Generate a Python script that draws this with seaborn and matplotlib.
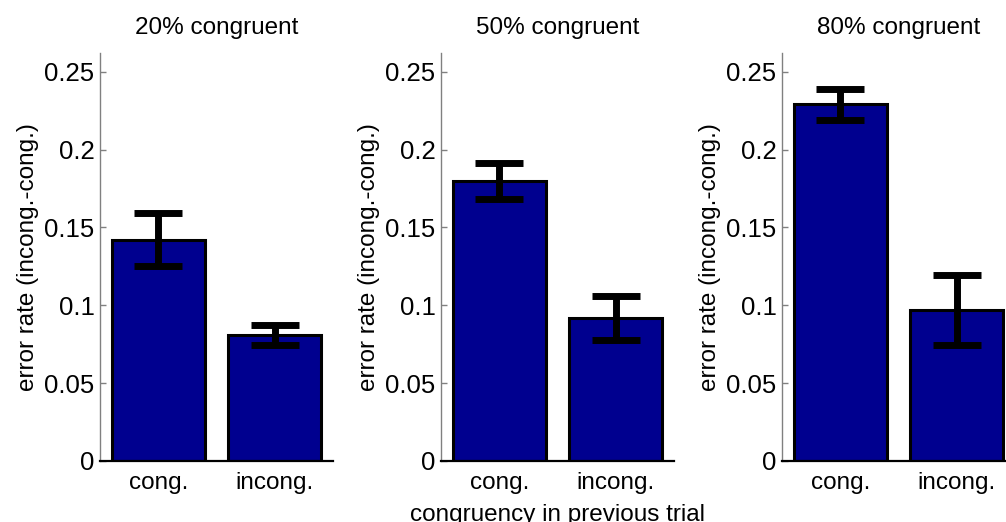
import numpy as np
import pandas as pd
import seaborn as sns
from matplotlib import pyplot as plt

# values
panels = ['20% congruent', '50% congruent', '80% congruent']
prev_trial = ['cong.', 'incong.']
mean_err = [[0.142, 0.081], [0.180, 0.092], [0.229, 0.097]]
sem_err = [[0.017, 0.0065], [0.0115, 0.014], [0.0102, 0.0225]]

rows = []
for p, m in zip(panels, mean_err):
    for c, v in zip(prev_trial, m):
        rows.append({'panel': p, 'prev': c, 'err': v})
df = pd.DataFrame(rows)

sns.set_style('white')
plt.rcParams['font.family'] = ['Liberation Sans', 'DejaVu Sans']
plt.rcParams['font.size'] = 17.5
plt.rcParams['text.color'] = 'black'
plt.rcParams['axes.labelcolor'] = 'black'
plt.rcParams['xtick.labelcolor'] = 'black'
plt.rcParams['ytick.labelcolor'] = 'black'

fig = plt.figure(figsize=(10.06, 5.22), dpi=100)
lefts = [100, 441, 782]

axs = []
for i, p in enumerate(panels):
    ax = fig.add_axes([lefts[i] / 1006, 61 / 522, 233 / 1006, 408 / 522])
    sub = df[df['panel'] == p]
    sns.barplot(data=sub, x='prev', y='err', order=prev_trial, color='#00008F',
                saturation=1, errorbar=None, width=0.8, edgecolor='black',
                linewidth=2.2, ax=ax)
    ax.errorbar(np.arange(len(prev_trial)), mean_err[i], yerr=sem_err[i], fmt='none',
                ecolor='black', elinewidth=5, capsize=17, capthick=5, zorder=5)
    ax.set_xlim(-0.5, 1.5)
    ax.set_ylim(0, 0.262)
    ax.set_yticks([0, 0.05, 0.1, 0.15, 0.2, 0.25])
    ax.set_yticklabels(['0', '0.05', '0.1', '0.15', '0.2', '0.25'], fontsize=18.5)
    ax.set_title(p, fontsize=17.5, pad=14, color='black')
    ax.set_ylabel('error rate (incong.-cong.)', labelpad=4)
    ax.set_xlabel('')
    sns.despine(ax=ax)
    ax.spines['left'].set_color('#808080')
    ax.spines['left'].set_linewidth(1)
    ax.spines['bottom'].set_color('black')
    ax.spines['bottom'].set_linewidth(1.6)
    ax.tick_params(axis='y', direction='in', length=4, width=1, color='#808080', pad=4, left=True)
    ax.tick_params(axis='x', length=0, pad=8)
    axs.append(ax)

axs[1].set_xlabel('congruency in previous trial', labelpad=7)

fig.savefig('out.png', dpi=100)
